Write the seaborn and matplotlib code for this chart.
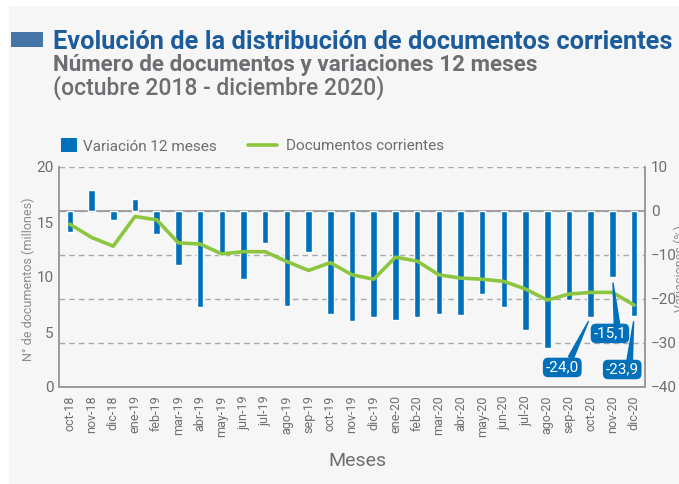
import matplotlib
matplotlib.use("Agg")
import matplotlib.pyplot as plt
import seaborn as sns
import numpy as np
import pandas as pd
from matplotlib.lines import Line2D
from matplotlib.patches import Rectangle, Patch

# ---------------- data ----------------
months = ['oct-18', 'nov-18', 'dic-18', 'ene-19', 'feb-19', 'mar-19', 'abr-19',
          'may-19', 'jun-19', 'jul-19', 'ago-19', 'sep-19', 'oct-19', 'nov-19',
          'dic-19', 'ene-20', 'feb-20', 'mar-20', 'abr-20', 'may-20', 'jun-20',
          'jul-20', 'ago-20', 'sep-20', 'oct-20', 'nov-20', 'dic-20']
variacion = [-4.8, 4.8, -2.0, 2.7, -5.2, -12.3, -21.9, -9.9, -15.5, -7.2, -21.7,
             -9.3, -23.3, -25.0, -24.0, -24.7, -24.0, -23.3, -23.6, -18.8, -21.9,
             -27.0, -31.2, -20.2, -24.0, -15.1, -23.9]
documentos = [14.8, 13.6, 12.8, 15.5, 15.2, 13.1, 13.0, 12.1, 12.3, 12.3, 11.4,
              10.6, 11.3, 10.2, 9.8, 11.8, 11.45, 10.2, 9.9, 9.8, 9.6, 8.9, 7.9,
              8.45, 8.6, 8.6, 7.45]
labeled_months = ['oct-20', 'nov-20', 'dic-20']
left_ticks = [0, 5, 10, 15, 20]
right_ticks = [-40, -30, -20, -10, 0, 10]

title = "Evolución de la distribución de documentos corrientes"
subtitle1 = "Número de documentos y variaciones 12 meses"
subtitle2 = "(octubre 2018 - diciembre 2020)"
legend_labels = ["Variación 12 meses", "Documentos corrientes"]

# ---------------- style ----------------
BLUE = "#0070ba"
GREEN = "#8cc63f"
TITLE_BLUE = "#1c5c9a"
SQUARE_BLUE = "#4574a6"
GRAY_TXT = "#6d6e71"
LIGHT_TXT = "#8c8c8c"
SPINE = "#9a9a9a"
GRID = "#a8a8a8"
BG = "#f6f6f6"

sns.set_theme(style="white")
plt.rcParams['font.family'] = ['Roboto', 'DejaVu Sans']

W, H = 679, 484
fig = plt.figure(figsize=(W / 100, H / 100), dpi=100, facecolor="white")
fig.patches.append(Rectangle((9 / W, 0), 1, 1 - 6 / H, transform=fig.transFigure,
                             facecolor=BG, edgecolor="none", zorder=-10))

ax_line = fig.add_axes([59 / W, 1 - 387 / H, (645 - 59) / W, (387 - 167) / H])
ax_bar = ax_line.twinx()
ax_line.set_facecolor(BG)

df = pd.DataFrame({"mes": months, "variacion": variacion, "documentos": documentos})

sns.barplot(data=df, x="mes", y="variacion", ax=ax_bar, color=BLUE,
            saturation=1, width=0.3, order=months, zorder=3)
sns.lineplot(data=df, x="mes", y="documentos", ax=ax_line, color=GREEN,
             linewidth=2.6, sort=False)

# layering: line axis on top
ax_line.set_zorder(ax_bar.get_zorder() + 1)
ax_line.patch.set_visible(False)

# ---------------- axes ----------------
ax_bar.set_ylim(-40, 10)
ax_bar.set_yticks(right_ticks)
ax_line.set_ylim(0, 20)
ax_line.set_yticks(left_ticks)
ax_line.set_xlim(-0.5, len(months) - 0.5)

ax_bar.set_axisbelow(True)
ax_bar.yaxis.grid(True, linestyle=(0, (4, 3)), color=GRID, linewidth=1.0)
ax_bar.xaxis.grid(False)
ax_line.grid(False)
ax_bar.axhline(0, color=SPINE, linewidth=1.3, zorder=1)

for a in (ax_line, ax_bar):
    a.set_xlabel("")
    a.set_ylabel("")
    for s in a.spines.values():
        s.set_visible(False)
ax_line.spines["left"].set_visible(True)
ax_line.spines["bottom"].set_visible(True)
ax_bar.spines["right"].set_visible(True)
for s in (ax_line.spines["left"], ax_line.spines["bottom"], ax_bar.spines["right"]):
    s.set_color(SPINE)
    s.set_linewidth(1.4)

ax_line.set_xticks(range(len(months)))
ax_line.set_xticklabels(months, rotation=90)
ax_line.set_xticks(np.arange(-0.5, len(months), 1), minor=True)
ax_line.tick_params(axis="x", which="major", length=0, pad=6, labelsize=9,
                    labelcolor=GRAY_TXT)
ax_line.tick_params(axis="x", which="minor", length=4, width=1, color=SPINE,
                    direction="out")
ax_line.tick_params(axis="y", length=0, pad=4, labelsize=11, labelcolor=GRAY_TXT)
ax_bar.tick_params(axis="y", length=0, pad=4.5, labelsize=11, labelcolor=GRAY_TXT)

# ---------------- annotations ----------------
offsets = {"oct-20": (-20.5, -36.6), "nov-20": (-1.8, -40.3), "dic-20": (-8.6, -38.4)}
for m in labeled_months:
    i = months.index(m)
    v = variacion[i]
    dx, dy = offsets[m]
    ax_line.annotate(f"{v:.1f}".replace(".", ","), xy=(i, v), xycoords=ax_bar.transData,
                     xytext=(dx, dy), textcoords="offset points", ha="center",
                     va="center", color="white", fontsize=11,
                     bbox=dict(boxstyle="round,pad=0.18,rounding_size=0.35",
                               fc=BLUE, ec="none"),
                     arrowprops=dict(arrowstyle="wedge,tail_width=0.35,shrink_factor=0.5",
                                     fc=BLUE, ec=BLUE, relpos=(0.72, 1.0),
                                     shrinkA=0, shrinkB=4))

# ---------------- legend (two parts, placed like the reference) ----------------
leg1 = ax_line.legend([Patch(facecolor=BLUE, edgecolor="none")], [legend_labels[0]],
                      loc="center left", bbox_to_anchor=(61 / W, 1 - 146 / H),
                      bbox_transform=fig.transFigure, frameon=False, fontsize=11,
                      handlelength=1.05, handleheight=1.0, handletextpad=0.4,
                      borderpad=0, borderaxespad=0, labelcolor=GRAY_TXT)
ax_line.add_artist(leg1)
ax_line.legend([Line2D([], [], color=GREEN, linewidth=2.6)], [legend_labels[1]],
               loc="center left", bbox_to_anchor=(248 / W, 1 - 146 / H),
               bbox_transform=fig.transFigure, frameon=False, fontsize=11,
               handlelength=1.9, handletextpad=0.6, borderpad=0, borderaxespad=0,
               labelcolor=GRAY_TXT)

# ---------------- figure texts ----------------
fig.patches.append(Rectangle((11 / W, 1 - 47 / H), 32 / W, 15 / H,
                             transform=fig.transFigure, facecolor=SQUARE_BLUE,
                             edgecolor="none"))
t1 = fig.text(53 / W, 1 - 49 / H, title, fontsize=17, fontweight="bold",
              color=TITLE_BLUE, va="baseline", ha="left")
t2 = fig.text(53 / W, 1 - 71 / H, subtitle1, fontsize=16, fontweight="bold",
              color=GRAY_TXT, va="baseline", ha="left")
t3 = fig.text(53 / W, 1 - 95 / H, subtitle2, fontsize=16, fontweight="medium",
              color=GRAY_TXT, va="baseline", ha="left")

fig.text(28 / W, 1 - 279 / H, "N° de documentos (millones)", rotation=90,
         ha="center", va="center", fontsize=9, color=LIGHT_TXT)
fig.text(680 / W, 1 - 269 / H, "Variaciones (%)", rotation=90,
         ha="center", va="center", fontsize=9, color=LIGHT_TXT)
fig.text(357 / W, 1 - 466 / H, "Meses", ha="center", va="baseline",
         fontsize=14, color=GRAY_TXT)

# fit title widths to reference
renderer = fig.canvas.get_renderer()
for t, target in ((t1, 619), (t2, 486), (t3, 332)):
    w = t.get_window_extent(renderer).width
    t.set_fontsize(t.get_fontsize() * target / w)

fig.savefig("out.png", dpi=100, facecolor=fig.get_facecolor())
